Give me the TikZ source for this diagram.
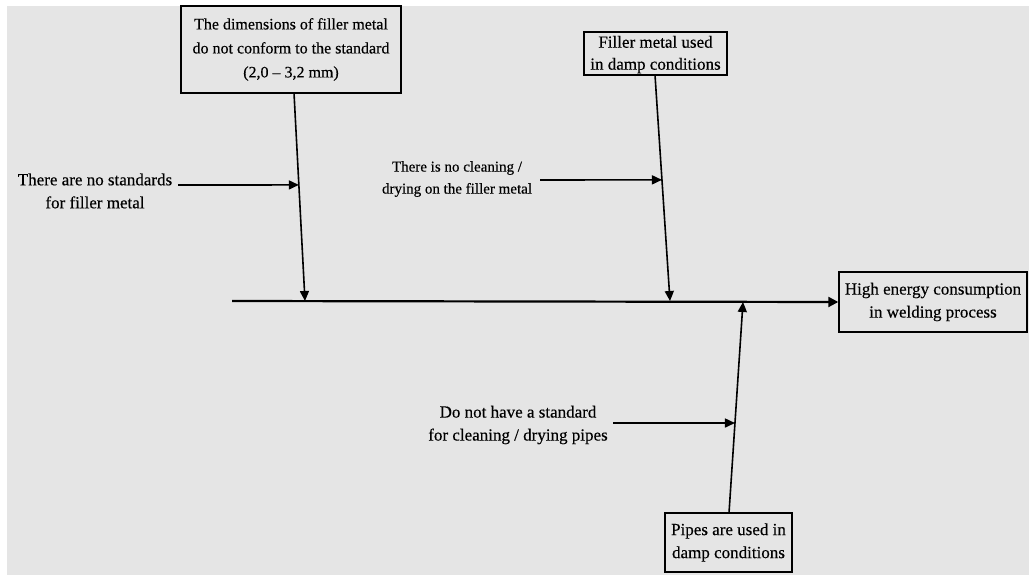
\documentclass[tikz,border=0pt]{standalone}
\usepackage{fontspec}
\setmainfont{Liberation Serif}[FakeBold=0.4]
\usetikzlibrary{arrows.meta,calc}
\begin{document}
\begin{tikzpicture}[x=1pt,y=-1pt,
  txt/.style={font=\fontsize{17}{23}\selectfont, align=center, inner sep=1pt},
  cause/.style={txt, draw, line width=1.4pt},
  bone/.style={line width=1.6pt, -{Triangle[length=10pt,width=9pt]}},
  spine/.style={line width=2.2pt, -{Triangle[length=10pt,width=10pt]}}]
\fill[white] (0,0) rectangle (1029,575);
\fill[black!10] (7,6) rectangle (1029,575);
\useasboundingbox (0,0) rectangle (1029,575);
% boxes
\node[cause, font=\fontsize{16}{24}\selectfont, minimum width=220pt, minimum height=87pt] (b1) at (291,49.5) {The dimensions of filler metal\\do not conform to the standard\\(2,0 -- 3,2 mm)};
\node[cause, minimum width=143pt, minimum height=43pt, font=\fontsize{17}{22}\selectfont] (b2) at (655.5,53.5) {\rule{0pt}{14pt}Filler metal used\\in damp conditions};
\node[cause, minimum width=188pt, minimum height=60pt] (eff) at (933,302) {High energy consumption\\in welding process};
\node[cause, minimum width=127pt, minimum height=59pt] (b3) at (728.5,542.5) {Pipes are used in\\damp conditions};
% spine
\coordinate (s0) at (232,301);
\draw[spine] (s0) -- (eff.west);
% bones
\coordinate (j1) at (305,301);
\coordinate (j2) at (670,301);
\coordinate (j3) at (743,302);
\coordinate (b1s) at (294,93);
\coordinate (b2s) at (655,75);
\coordinate (b3s) at (729,513);
\draw[bone] (b1s) -- (j1);
\draw[bone] (b2s) -- (j2);
\draw[bone] (b3s) -- (j3);
% sub causes
\node[txt] (t1) at (95,191) {There are no standards\\for filler metal};
\node[txt, font=\fontsize{15}{22}\selectfont] (t2) at (457,179) {There is no cleaning /\\drying on the filler metal};
\node[txt] (t3) at (518,425) {Do not have a standard\\for cleaning / drying pipes};
\coordinate (e1) at ($(b1s)!0.442!(j1)$);
\coordinate (e2) at ($(b2s)!0.464!(j2)$);
\coordinate (e3) at ($(b3s)!0.4265!(j3)$);
\coordinate (a1) at (178,185);
\coordinate (a2) at (540,180);
\coordinate (a3) at (613,423);
\draw[bone] (a1) -- (e1);
\draw[bone] (a2) -- (e2);
\draw[bone] (a3) -- (e3);
\end{tikzpicture}
\end{document}
